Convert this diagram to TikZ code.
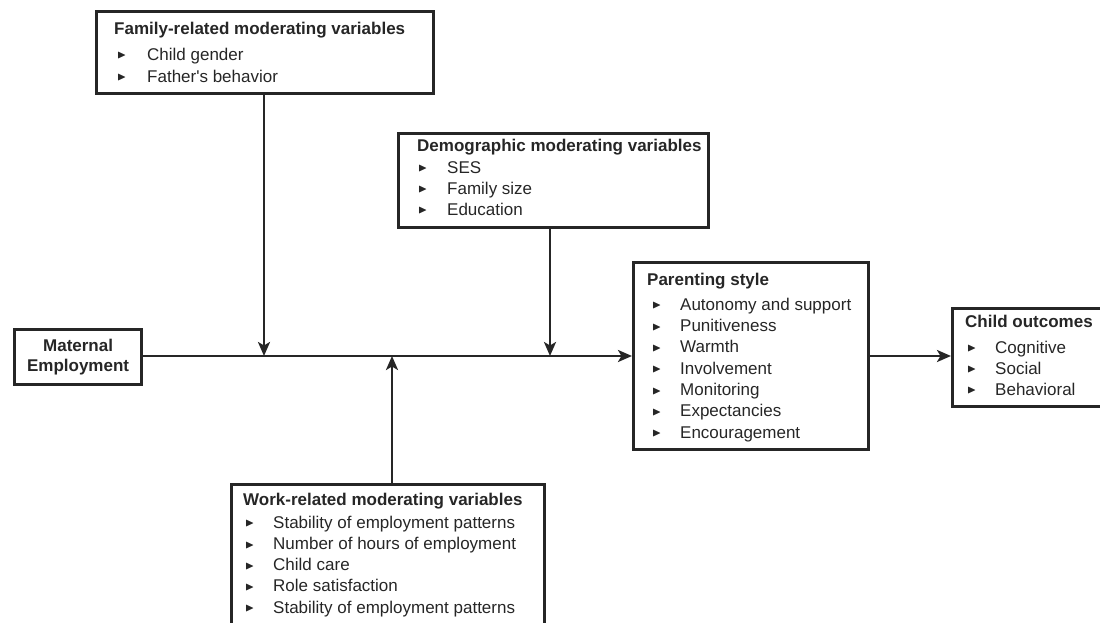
\documentclass[tikz,border=0pt]{standalone}
\usepackage{fontspec}
\setmainfont{Liberation Sans}
\usepackage{amssymb,graphicx}
\usetikzlibrary{arrows.meta,calc}
\newcommand\blt{\raisebox{1.2pt}{\scalebox{0.7}{$\blacktriangleright$}}}
\newcommand\itm[3]{\hspace*{#1}\makebox[#2][l]{\blt}#3}
\begin{document}
\begin{tikzpicture}[x=1pt,y=-1pt,
  box/.style={draw=black!85,line width=3.2pt,inner sep=0pt,anchor=north west},
  txt/.style={inner sep=0pt,anchor=north west,align=left,text=black!85},
  arr/.style={draw=black!85,line width=2.6pt,-{Stealth[length=14pt,width=12pt,inset=3.5pt]}}]
\useasboundingbox (0,0) rectangle (1100,623);
% boxes
\node[box,minimum width=337pt,minimum height=82pt] (fam) at (95,10) {};
\node[box,minimum width=310pt,minimum height=94pt] (dem) at (397,132) {};
\node[box,minimum width=127pt,minimum height=55pt,anchor=north west,align=center,text=black!85,
  font=\fontsize{17}{20}\selectfont\bfseries] (mat) at (13,328) {Maternal\\Employment};
\node[box,minimum width=235pt,minimum height=187pt] (par) at (632,261) {};
\node[box,minimum width=170pt,minimum height=98pt] (out) at (951,307) {};
\node[box,minimum width=313pt,minimum height=160pt] (work) at (230,483) {};
% texts
\node[txt,font=\fontsize{17}{22}\selectfont] (famt) at (114,21.6)
  {\textbf{Family-related moderating variables}\\[4pt]
   \itm{3pt}{30pt}{Child gender}\\
   \itm{3pt}{30pt}{Father\textquotesingle s behavior}};
\node[txt,font=\fontsize{17}{21}\selectfont] (demt) at (417,138.6)
  {\textbf{Demographic moderating variables}\\[1pt]
   \itm{1pt}{29pt}{SES}\\
   \itm{1pt}{29pt}{Family size}\\
   \itm{1pt}{29pt}{Education}};
\node[txt,font=\fontsize{17}{21.33}\selectfont] (part) at (647,272.6)
  {\textbf{Parenting style}\\[3.7pt]
   \itm{5pt}{28pt}{Autonomy and support}\\
   \itm{5pt}{28pt}{Punitiveness}\\
   \itm{5pt}{28pt}{Warmth}\\
   \itm{5pt}{28pt}{Involvement}\\
   \itm{5pt}{28pt}{Monitoring}\\
   \itm{5pt}{28pt}{Expectancies}\\
   \itm{5pt}{28pt}{Encouragement}};
\node[txt,font=\fontsize{17}{21}\selectfont] (outt) at (965,314.6)
  {\textbf{Child outcomes}\\[5pt]
   \itm{2pt}{28pt}{Cognitive}\\
   \itm{2pt}{28pt}{Social}\\
   \itm{2pt}{28pt}{Behavioral}};
\node[txt,font=\fontsize{17}{21.25}\selectfont] (workt) at (243,492.6)
  {\textbf{Work-related moderating variables}\\[1.75pt]
   \itm{2pt}{28pt}{Stability of employment patterns}\\
   \itm{2pt}{28pt}{Number of hours of employment}\\
   \itm{2pt}{28pt}{Child care}\\
   \itm{2pt}{28pt}{Role satisfaction}\\
   \itm{2pt}{28pt}{Stability of employment patterns}};
% junctions
\coordinate (j1) at (264,356);
\coordinate (j2) at (550,356);
\coordinate (j3) at (392,356);
% connectors
\draw[arr] (mat.east |- j1) -- (par.west |- j1);
\draw[arr] (fam.south -| j1) -- (j1);
\draw[arr] (dem.south -| j2) -- (j2);
\draw[arr] (work.north -| j3) -- (j3);
\draw[arr] (par.east |- j1) -- (out.west |- j1);
\end{tikzpicture}
\end{document}
